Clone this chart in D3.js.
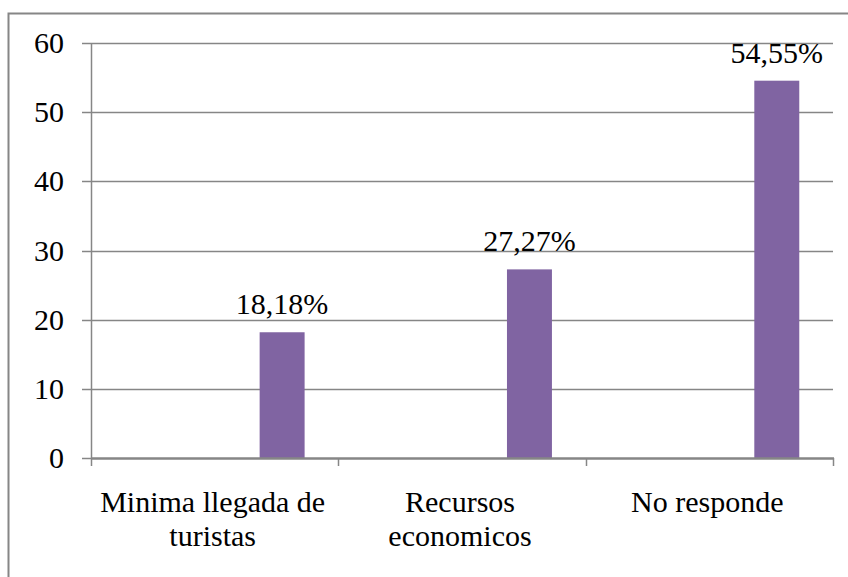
<!DOCTYPE html>
<html>
<head>
<meta charset="utf-8">
<script src="https://cdn.jsdelivr.net/npm/d3@7"></script>
<style>
  html, body { margin: 0; padding: 0; background: #fff; }
  svg { display: block; }
</style>
</head>
<body>
<svg id="chart" width="848" height="577"></svg>
<script>
const categories = ["Minima llegada de turistas", "Recursos economicos", "No responde"];
const categoryLines = [["Minima llegada de", "turistas"], ["Recursos", "economicos"], ["No responde"]];
const values = [18.18, 27.27, 54.55];
const valueLabels = ["18,18%", "27,27%", "54,55%"];
const yTicks = [0, 10, 20, 30, 40, 50, 60];

(function () {
const svg = d3.select("#chart")
  .attr("font-family", "'Liberation Serif', 'Times New Roman', Times, serif");
const W = 848, H = 577;
const gray = "#868686";
const fontSize = 30;

svg.append("rect")
  .attr("x", 8.5).attr("y", 13.5)
  .attr("width", W + 20).attr("height", H + 20)
  .attr("fill", "none").attr("stroke", gray).attr("stroke-width", 2);

const pLeft = 91, pRight = 833, pTop = 43, pBottom = 458;

const x = d3.scaleBand().domain(categories).range([pLeft, pRight]).padding(0);
const y = d3.scaleLinear().domain([0, 60]).range([pBottom, pTop]);

svg.append("g").selectAll("line").data(yTicks.filter(d => d > 0)).join("line")
  .attr("x1", pLeft - 9).attr("x2", pRight)
  .attr("y1", d => Math.round(y(d)) + 0.5).attr("y2", d => Math.round(y(d)) + 0.5)
  .attr("stroke", gray).attr("stroke-width", 1.5);

const bw = x.bandwidth();
const slotW = bw / 5.5;
const barOffset = 0.75 * slotW + 3 * slotW;
svg.append("g").selectAll("rect").data(values).join("rect")
  .attr("x", (d, i) => x(categories[i]) + barOffset)
  .attr("width", slotW)
  .attr("y", d => y(d))
  .attr("height", d => pBottom - y(d))
  .attr("fill", "#8064A2");

svg.append("line")
  .attr("x1", pLeft + 0.5).attr("x2", pLeft + 0.5)
  .attr("y1", pTop).attr("y2", pBottom)
  .attr("stroke", gray).attr("stroke-width", 1.5);
svg.append("line")
  .attr("x1", pLeft - 9).attr("x2", pLeft)
  .attr("y1", pBottom + 0.5).attr("y2", pBottom + 0.5)
  .attr("stroke", gray).attr("stroke-width", 1.5);

svg.append("line")
  .attr("x1", pLeft).attr("x2", pRight + 1)
  .attr("y1", pBottom + 0.5).attr("y2", pBottom + 0.5)
  .attr("stroke", gray).attr("stroke-width", 2.5);
const boundaries = categories.map(c => x(c)).concat([pRight]);
svg.append("g").selectAll("line").data(boundaries).join("line")
  .attr("x1", d => Math.round(d) + 0.5).attr("x2", d => Math.round(d) + 0.5)
  .attr("y1", pBottom).attr("y2", pBottom + 8)
  .attr("stroke", gray).attr("stroke-width", 1.5);

svg.append("g").selectAll("text").data(yTicks).join("text")
  .attr("x", 64).attr("y", d => y(d) + 10)
  .attr("text-anchor", "end")
  .attr("font-size", fontSize)
  .attr("fill", "#000")
  .text(d => d);

svg.append("g").selectAll("text").data(values).join("text")
  .attr("x", (d, i) => x(categories[i]) + barOffset + slotW / 2)
  .attr("y", d => y(d) - 18)
  .attr("text-anchor", "middle")
  .attr("font-size", fontSize)
  .attr("fill", "#000")
  .text((d, i) => valueLabels[i]);

const cg = svg.append("g");
categories.forEach((c, i) => {
  const cx = x(c) + bw / 2 - 2;
  const t = cg.append("text")
    .attr("x", cx)
    .attr("y", 512)
    .attr("text-anchor", "middle")
    .attr("font-size", fontSize)
    .attr("fill", "#000");
  categoryLines[i].forEach((ln, j) => {
    t.append("tspan").attr("x", cx).attr("dy", j === 0 ? 0 : 34).text(ln);
  });
});
})();
</script>
</body>
</html>
